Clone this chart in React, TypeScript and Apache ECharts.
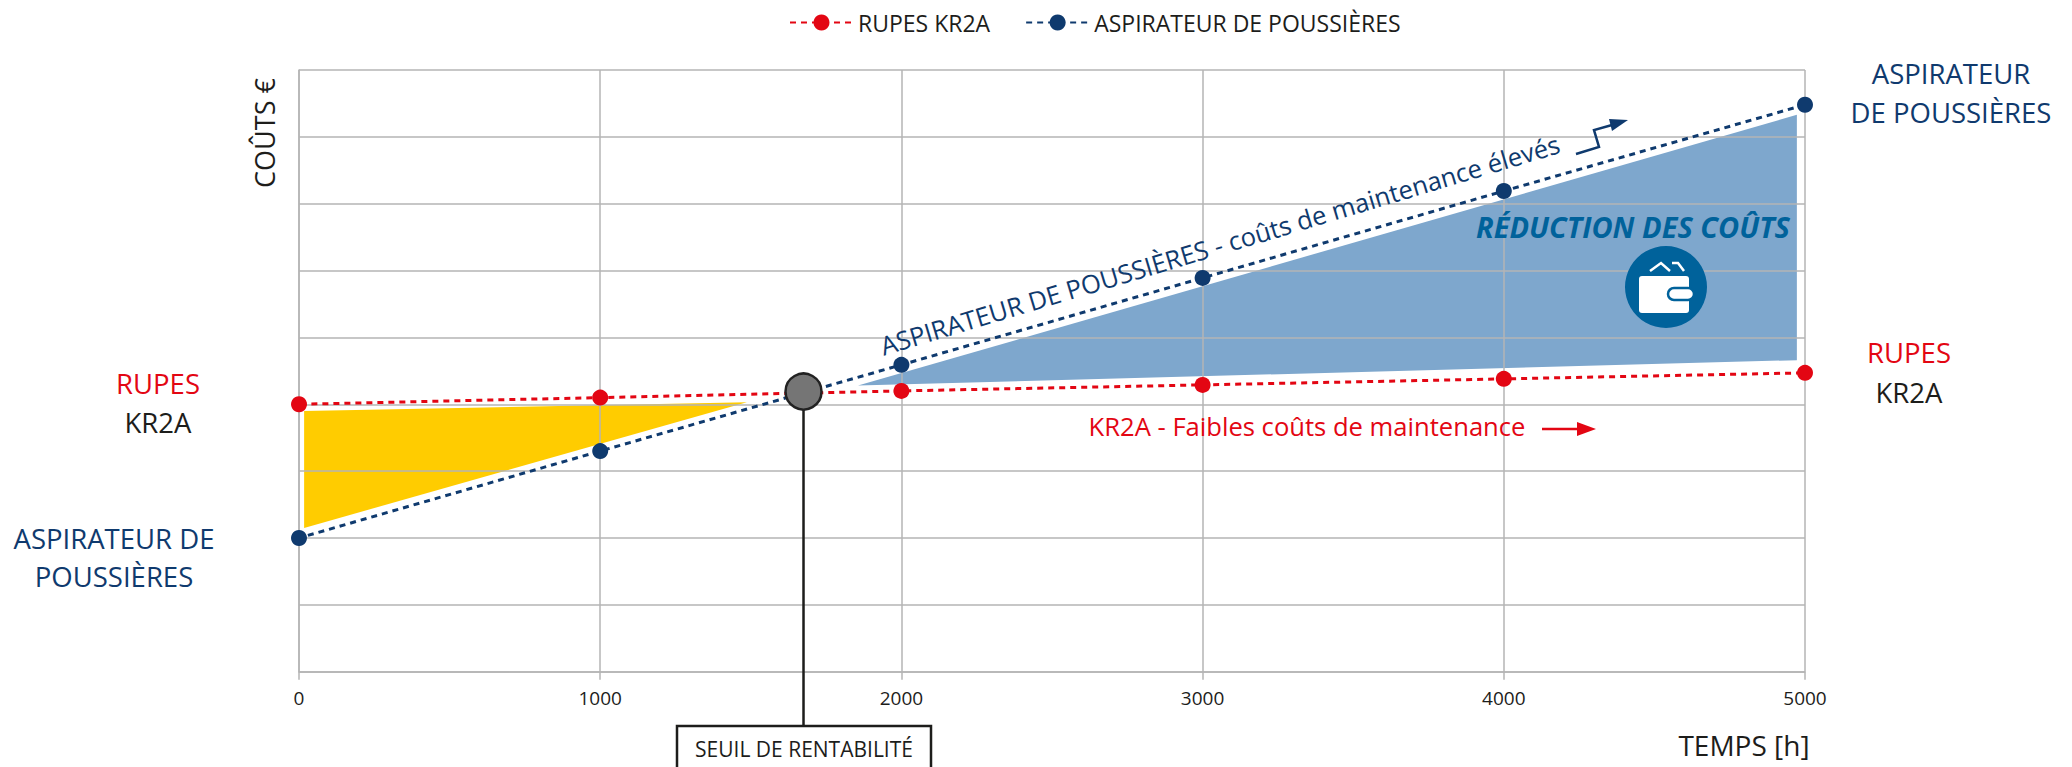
import React, { useEffect, useRef } from "react";
import * as echarts from "echarts";

const X_TICKS = [0, 1000, 2000, 3000, 4000, 5000];
const RUPES_VALUES = [4.0, 4.1, 4.2, 4.29, 4.38, 4.47];
const ASPIRATEUR_VALUES = [2.0, 3.3, 4.59, 5.89, 7.19, 8.48];
const RUPES_EXT = [[-251, 3.98], [5143, 4.48]];
const ASPIRATEUR_EXT = [[-251, 1.67], [5143, 8.67]];
const YELLOW_AREA = [[17, 3.9], [1487, 4.03], [17, 2.15]];
const BLUE_AREA = [[1856, 4.28], [4973, 8.33], [4973, 4.66]];
const BREAK_EVEN = [1675, 4.19];
const BREAK_EVEN_DROP = [1675, -0.8];
const NAMES = ["RUPES KR2A", "ASPIRATEUR DE POUSSIÈRES"];

const RED = "#e30613";
const NAVY = "#0f3a6e";
const INK = "#1d1d1b";
const FONT = '"Open Sans", sans-serif';

const buildLine = (ext: number[][], vals: number[]) => [
  { value: ext[0], symbol: "none" },
  ...vals.map((v, i) => ({ value: [X_TICKS[i], v] })),
  { value: ext[1], symbol: "none" },
];

const polygonSeries = (area: number[][], fill: string) => ({
  type: "custom",
  z: 0,
  silent: true,
  clip: false,
  data: area,
  encode: { x: 0, y: 1 },
  renderItem: (params: any, api: any) =>
    params.dataIndex === 0
      ? {
          type: "polygon",
          shape: { points: area.map((p) => api.coord(p)) },
          style: { fill },
        }
      : null,
});

const label = (text: string, x: number, y: number, fill: string, size = 27.5, extra: any = {}) => ({
  type: "text",
  z: 20,
  x,
  y,
  ...extra.el,
  style: {
    text,
    fill,
    font: `${extra.italic ? "italic " : ""}${extra.weight || "normal"} ${size}px ${FONT}`,
    align: "center",
    verticalAlign: "middle",
  },
});

export default function App() {
  const ref = useRef<HTMLDivElement>(null);
  useEffect(() => {
    document.body.style.margin = "0";
    document.documentElement.style.overflow = "hidden";
    const chart = echarts.init(ref.current!, undefined, { renderer: "svg" });
    const lineSeries = (name: string, color: string, data: any[]) => ({
      name,
      type: "line",
      z: 4,
      clip: false,
      data,
      symbol: "circle",
      symbolSize: 16,
      showSymbol: true,
      itemStyle: { color },
      lineStyle: { color, width: 3, type: [6, 5] },
    });
    chart.setOption({
      animation: false,
      backgroundColor: "#fff",
      legend: {
        data: NAMES,
        left: 784,
        top: 6,
        itemWidth: 63,
        itemHeight: 20,
        itemGap: 35,
        textStyle: { fontFamily: FONT, fontSize: 23, color: INK },
      },
      grid: { left: 299, top: 70, width: 1506, height: 601.7, show: false },
      xAxis: {
        type: "value",
        min: 0,
        max: 5000,
        interval: 1000,
        z: 1,
        axisLine: { show: true, lineStyle: { color: "#b4b4b4", width: 1.5 } },
        axisTick: { show: true, length: 8, lineStyle: { color: "#b4b4b4", width: 1.5 } },
        splitLine: { show: true, lineStyle: { color: "#b4b4b4", width: 1.5 } },
        axisLabel: { fontFamily: FONT, fontSize: 19, color: INK, margin: 17, formatter: (v: number) => String(v) },
      },
      yAxis: {
        type: "value",
        min: 0,
        max: 9,
        interval: 1,
        z: 1,
        axisLine: { show: true, lineStyle: { color: "#b4b4b4", width: 1.5 } },
        axisTick: { show: false },
        axisLabel: { show: false },
        splitLine: { show: true, lineStyle: { color: "#b4b4b4", width: 1.5 } },
      },
      series: [
        polygonSeries(YELLOW_AREA, "#ffcc00"),
        polygonSeries(BLUE_AREA, "#7ea7cd"),
        lineSeries(NAMES[0], RED, buildLine(RUPES_EXT, RUPES_VALUES)),
        lineSeries(NAMES[1], NAVY, buildLine(ASPIRATEUR_EXT, ASPIRATEUR_VALUES)),
        {
          type: "line",
          z: 5,
          clip: false,
          symbol: "none",
          data: [BREAK_EVEN, BREAK_EVEN_DROP],
          lineStyle: { color: INK, width: 2.5 },
        },
        {
          type: "scatter",
          z: 6,
          clip: false,
          data: [BREAK_EVEN],
          symbol: "circle",
          symbolSize: 36,
          itemStyle: { color: "#757575", borderColor: "#222", borderWidth: 2.5, opacity: 1 },
        },
      ],
      graphic: {
        elements: [
          label("COÛTS €", 264, 133, INK, 27, { el: { rotation: Math.PI / 2 } }),
          label("TEMPS [h]", 1744, 745, INK, 28),
          label("RUPES", 158, 383, RED),
          label("KR2A", 158, 422, INK),
          label("ASPIRATEUR DE", 114, 538, NAVY),
          label("POUSSIÈRES", 114, 576, NAVY),
          label("ASPIRATEUR", 1951, 73, NAVY),
          label("DE POUSSIÈRES", 1951, 112, NAVY),
          label("RUPES", 1909, 352, RED),
          label("KR2A", 1909, 392, INK),
          label("ASPIRATEUR DE POUSSIÈRES - coûts de maintenance élevés", 1220, 245, NAVY, 25.6, {
            el: { rotation: 0.291 },
          }),
          label("KR2A - Faibles coûts de maintenance", 1307, 426, RED, 25.6),
          label("RÉDUCTION DES COÛTS", 1633, 226, "#00629b", 29, { weight: "bold", italic: true }),
          {
            type: "rect",
            z: 18,
            shape: { x: 677, y: 726, width: 254, height: 60 },
            style: { fill: "#fff", stroke: INK, lineWidth: 2.5 },
          },
          label("SEUIL DE RENTABILITÉ", 804, 749, INK, 21),
          {
            type: "polyline",
            z: 20,
            shape: { points: [[1576, 154], [1599, 147], [1594, 130], [1612, 125]] },
            style: { stroke: NAVY, lineWidth: 2.5, fill: "none" },
          },
          {
            type: "polygon",
            z: 20,
            shape: { points: [[1628, 120], [1609, 119], [1612, 131]] },
            style: { fill: NAVY },
          },
          {
            type: "line",
            z: 20,
            shape: { x1: 1542, y1: 429, x2: 1580, y2: 429 },
            style: { stroke: RED, lineWidth: 2.5 },
          },
          {
            type: "polygon",
            z: 20,
            shape: { points: [[1596, 429], [1577, 422], [1577, 436]] },
            style: { fill: RED },
          },
          { type: "circle", z: 20, shape: { cx: 1666, cy: 287, r: 41 }, style: { fill: "#00629b" } },
          {
            type: "rect",
            z: 21,
            shape: { x: 1639, y: 276, width: 50, height: 37, r: 3 },
            style: { fill: "#fff" },
          },
          {
            type: "rect",
            z: 22,
            shape: { x: 1668, y: 288, width: 26, height: 12, r: 6 },
            style: { fill: "#fff", stroke: "#00629b", lineWidth: 2.5 },
          },
          {
            type: "polyline",
            z: 21,
            shape: { points: [[1650, 271], [1661, 263], [1670, 271]] },
            style: { stroke: "#fff", lineWidth: 2.5, fill: "none" },
          },
          {
            type: "polyline",
            z: 21,
            shape: { points: [[1672, 263], [1678, 263], [1684, 271]] },
            style: { stroke: "#fff", lineWidth: 2.5, fill: "none" },
          },
        ],
      },
    });
    return () => chart.dispose();
  }, []);
  return <div ref={ref} style={{ width: 2072, height: 767 }} />;
}
